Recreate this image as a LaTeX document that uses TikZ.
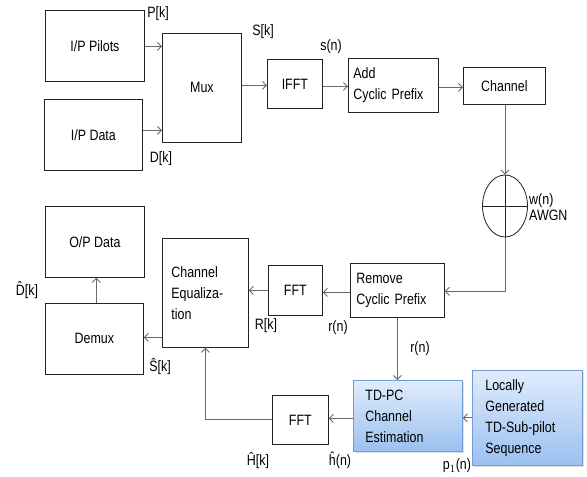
\documentclass[tikz,border=0pt]{standalone}
\usepackage{fontspec}
\setmainfont{Liberation Sans}[FakeStretch=0.83]
\usetikzlibrary{arrows.meta,shapes.geometric,calc,shadows}
\definecolor{linegray}{RGB}{105,105,105}
\definecolor{boxline}{RGB}{35,35,35}
\definecolor{bluetop}{RGB}{224,236,252}
\definecolor{bluebot}{RGB}{155,192,240}
\definecolor{blueline}{RGB}{115,155,212}
\begin{document}
\begin{tikzpicture}[x=1pt,y=-1pt,
  every node/.style={font=\fontsize{15}{21}\selectfont},
  blk/.style={draw=boxline,line width=0.8pt,anchor=north west,inner sep=0pt,align=center},
  lblk/.style={blk,align=left},
  blueblk/.style={lblk,draw=blueline,top color=bluetop,bottom color=bluebot,
     drop shadow={shadow xshift=1.5pt,shadow yshift=-1.5pt,opacity=0.25}},
  arr/.style={draw=linegray,line width=0.9pt,-{Straight Barb[length=4pt,width=8pt]}},
  lbl/.style={inner sep=0pt}]
\useasboundingbox[fill=white] (0,0) rectangle (587,477);
% blocks
\node[blk,minimum width=99pt,minimum height=71pt] (pilots) at (45,10) {I/P Pilots};
\node[blk,minimum width=98pt,minimum height=71pt] (data) at (44,99) {I/P Data};
\node[blk,minimum width=79pt,minimum height=109pt] (mux) at (162,33) {Mux};
\node[blk,minimum width=55pt,minimum height=49pt] (ifft) at (267,59) {IFFT};
\node[lblk,minimum width=89pt,minimum height=54pt,text width=80pt,inner xsep=5pt] (acp) at (348,58) {Add\\Cyclic Prefix};
\node[blk,minimum width=82pt,minimum height=37pt] (chan) at (463,67) {Channel};
\node[draw=boxline,line width=0.8pt,ellipse,minimum width=45pt,minimum height=62pt,inner sep=0pt] (awgn) at (505,206) {};
\node[lblk,minimum width=90pt,minimum height=54pt,text width=82pt,inner xsep=6pt] (rcp) at (350,263) {Remove\\Cyclic Prefix};
\node[blk,minimum width=54pt,minimum height=50pt] (fft1) at (268,265) {FFT};
\node[lblk,minimum width=80pt,minimum height=109pt,text width=68pt,inner xsep=9pt] (cheq) at (162,238) {Channel\\Equaliza-\\tion};
\node[blk,minimum width=98pt,minimum height=71pt] (demux) at (45,303) {Demux};
\node[blk,minimum width=99pt,minimum height=71pt] (opdata) at (45,206) {O/P Data};
\node[blueblk,minimum width=99pt,minimum height=71pt,text width=85pt,inner xsep=12pt] (tdpc) at (353,380) {TD-PC\\Channel\\Estimation};
\node[blueblk,minimum width=99pt,minimum height=95pt,text width=84pt,inner xsep=13pt] (local) at (472,370) {Locally\\Generated\\TD-Sub-pilot\\Sequence};
\node[blk,minimum width=56pt,minimum height=49pt] (fft2) at (272,395) {FFT};
% adder cross
\draw[draw=boxline,line width=0.8pt] (awgn.west) -- (awgn.east);
\draw[draw=boxline,line width=0.8pt] (awgn.north) -- (awgn.south);
% connectors
\draw[arr] ($(pilots.east)+(0,0.5)$) -- ($(pilots.east -| mux.west)+(0,0.5)$);
\draw[arr] ($(data.east)+(0,-4.5)$) -- ($(data.east -| mux.west)+(0,-4.5)$);
\draw[arr] ($(ifft.west -| mux.east)+(0,1.5)$) -- ($(ifft.west)+(0,1.5)$);
\draw[arr] ($(ifft.east)+(0,2.5)$) -- ($(ifft.east -| acp.west)+(0,2.5)$);
\draw[arr] ($(chan.west -| acp.east)+(0,1.5)$) -- ($(chan.west)+(0,1.5)$);
\draw[arr] (awgn.north |- chan.south) -- (awgn.north);
\draw[arr] (awgn.south) |- ($(rcp.east)+(0,1)$);
\draw[arr] ($(rcp.west)+(0,2)$) -- ($(fft1.east)+(0,2)$);
\draw[arr] (fft1.west) -- (fft1.west -| cheq.east);
\draw[arr] ($(cheq.west |- demux.east)+(0,-1.5)$) -- ($(demux.east)+(0,-1.5)$);
\draw[arr] ($(demux.north)+(2,0)$) -- ($(opdata.south)+(1.5,0)$);
\draw[arr] (rcp.south) -- (rcp.south |- tdpc.north);
\draw[arr] (local.west) -- (local.west -| tdpc.east);
\draw[arr] ($(tdpc.west)+(0,2.5)$) -- ($(tdpc.west -| fft2.east)+(0,2.5)$);
\draw[arr] (fft2.west) -| (cheq.south);
% labels
\node[lbl] (lpk) at (158,14) {P[k]};
\node[lbl] (lsk) at (263,32) {S[k]};
\node[lbl] (ldk) at (161,159) {D[k]};
\node[lbl] (lsn) at (331,47) {s(n)};
\node[lbl,anchor=west,align=left,font=\fontsize{15}{15.5}\selectfont] (lwn) at (529,207) {w(n)\\AWGN};
\node[lbl] (lrk) at (266,326) {R[k]};
\node[lbl] (lrn1) at (338,328) {r(n)};
\node[lbl] (lrn2) at (420,349) {r(n)};
\node[lbl] (ldh) at (27,290) {\^{D}[k]};
\node[lbl] (lsh) at (160,366) {Ŝ[k]};
\node[lbl] (lhh) at (258,460) {Ĥ[k]};
\node[lbl] (lhn) at (340,460) {ĥ(n)};
\node[lbl] (lpn) at (457,466) {p$_1$(n)};
\end{tikzpicture}
\end{document}
